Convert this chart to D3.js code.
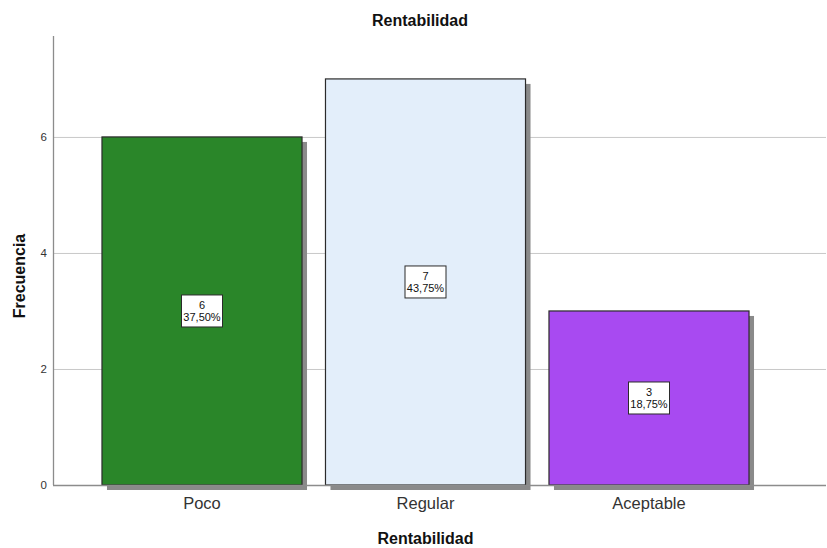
<!DOCTYPE html>
<html>
<head>
<meta charset="utf-8">
<script src="https://cdn.jsdelivr.net/npm/d3@7"></script>
<style>
  html, body { margin: 0; padding: 0; background: #fff; }
  text { font-family: "Liberation Sans", Arial, sans-serif; }
</style>
</head>
<body>
<svg id="chart" width="827" height="548"></svg>
<script>
// Frequency of each profitability level
const categories = ["Poco", "Regular", "Aceptable"];
const counts = [6, 7, 3];
const percentLabels = ["37,50%", "43,75%", "18,75%"];
const barColors = ["#2a8629", "#e3eefa", "#a84af1"];
const yTicks = [0, 2, 4, 6];

const svg = d3.select("#chart");
const plotLeft = 53, plotRight = 826, plotTop = 36, plotBottom = 485;

const y = d3.scaleLinear().domain([0, 7.74]).range([plotBottom, plotTop]);
const x = d3.scaleBand()
  .domain(categories)
  .range([90.25, 760.75])
  .paddingInner(0.105)
  .paddingOuter(0.0525);

// horizontal gridlines
svg.append("g").selectAll("line")
  .data(yTicks.filter(d => d > 0))
  .join("line")
  .attr("x1", plotLeft).attr("x2", plotRight)
  .attr("y1", d => y(d) + 0.5).attr("y2", d => y(d) + 0.5)
  .attr("stroke", "#c8c8c8").attr("stroke-width", 1);

// y axis tick labels
svg.append("g").selectAll("text")
  .data(yTicks)
  .join("text")
  .attr("x", plotLeft - 6)
  .attr("y", d => y(d) + 4)
  .attr("text-anchor", "end")
  .attr("font-size", 11.5)
  .attr("fill", "#333")
  .text(d => d);

const data = categories.map((c, i) => ({ c, v: counts[i], p: percentLabels[i], col: barColors[i] }));

// drop shadows
svg.append("g").selectAll("rect")
  .data(data)
  .join("rect")
  .attr("x", d => x(d.c) + 5)
  .attr("y", d => y(d.v) + 5)
  .attr("width", x.bandwidth())
  .attr("height", d => plotBottom - y(d.v))
  .attr("fill", "#8a8a8a");

// bars
svg.append("g").selectAll("rect")
  .data(data)
  .join("rect")
  .attr("x", d => x(d.c))
  .attr("y", d => y(d.v))
  .attr("width", x.bandwidth())
  .attr("height", d => plotBottom - y(d.v))
  .attr("fill", d => d.col)
  .attr("stroke", "#2b2b2b")
  .attr("stroke-width", 1.2);

// axis lines
svg.append("line")
  .attr("x1", plotLeft + 0.5).attr("x2", plotLeft + 0.5)
  .attr("y1", plotTop).attr("y2", plotBottom)
  .attr("stroke", "#8c8c8c").attr("stroke-width", 1.3);
svg.append("line")
  .attr("x1", plotLeft).attr("x2", plotRight)
  .attr("y1", plotBottom + 0.5).attr("y2", plotBottom + 0.5)
  .attr("stroke", "#8c8c8c").attr("stroke-width", 1.3);

// value labels
const lab = svg.append("g").selectAll("g")
  .data(data)
  .join("g")
  .attr("transform", d => `translate(${x(d.c) + x.bandwidth() / 2},${(y(d.v) + plotBottom) / 2})`);
lab.append("rect")
  .attr("x", -20.5).attr("y", -16)
  .attr("width", 41).attr("height", 32)
  .attr("fill", "#fff")
  .attr("stroke", "#2b2b2b").attr("stroke-width", 1);
lab.append("text")
  .attr("y", -2)
  .attr("text-anchor", "middle")
  .attr("font-size", 11)
  .attr("fill", "#111")
  .text(d => d.v);
lab.append("text")
  .attr("y", 10)
  .attr("text-anchor", "middle")
  .attr("font-size", 11)
  .attr("fill", "#111")
  .text(d => d.p);

// category labels
svg.append("g").selectAll("text")
  .data(categories)
  .join("text")
  .attr("x", d => x(d) + x.bandwidth() / 2)
  .attr("y", 509)
  .attr("text-anchor", "middle")
  .attr("font-size", 16.5)
  .attr("fill", "#333")
  .text(d => d);

// titles
svg.append("text")
  .attr("x", 420).attr("y", 26)
  .attr("text-anchor", "middle")
  .attr("font-size", 16).attr("font-weight", "bold")
  .attr("fill", "#111")
  .text("Rentabilidad");
svg.append("text")
  .attr("x", 425.5).attr("y", 544)
  .attr("text-anchor", "middle")
  .attr("font-size", 16).attr("font-weight", "bold")
  .attr("fill", "#111")
  .text("Rentabilidad");
svg.append("text")
  .attr("transform", "translate(25,276) rotate(-90)")
  .attr("text-anchor", "middle")
  .attr("font-size", 16).attr("font-weight", "bold")
  .attr("fill", "#111")
  .text("Frecuencia");
</script>
</body>
</html>
